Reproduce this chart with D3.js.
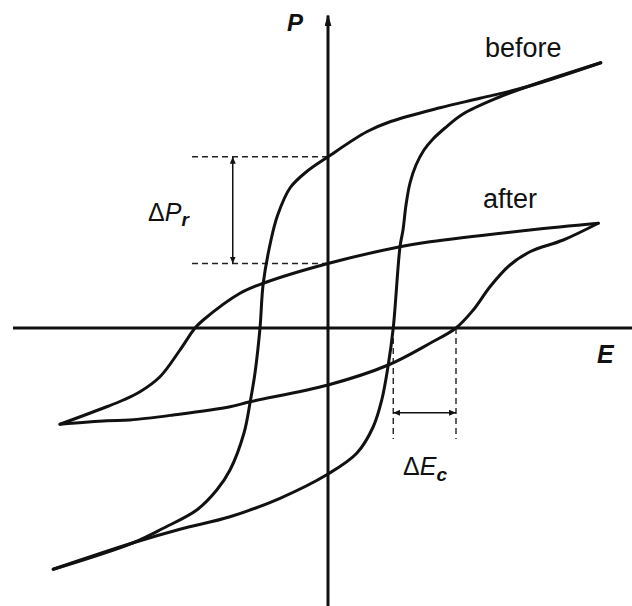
<!DOCTYPE html>
<html>
<head>
<meta charset="utf-8">
<script src="https://cdn.jsdelivr.net/npm/d3@7"></script>
<style>
  body { margin: 0; background: #fff; }
  svg text { font-family: "Liberation Sans", Arial, sans-serif; fill: #111; }
</style>
</head>
<body>
<div id="chart"></div>
<script>
// hysteresis loops, [E, P] in arbitrary units
var beforeUp = [
  [-10.99, -9.65], [-7.79, -8.59], [-5.92, -8.05], [-3.92, -7.55], [-1.92, -6.81],
  [0, -5.84], [1.15, -5.01], [1.81, -3.95], [2.15, -2.88], [2.41, -1.48],
  [2.61, 0], [2.88, 3.25], [3.0, 3.92], [3.12, 4.92], [3.28, 5.8], [3.52, 6.52],
  [3.84, 7.12], [4.2, 7.56], [4.68, 8.0], [5.4, 8.56], [6.76, 9.2], [7.96, 9.65],
  [10.91, 10.61]
];
var beforeDown = [
  [10.91, 10.61], [7.96, 9.65], [6.08, 9.19], [4.48, 8.81], [2.48, 8.25],
  [1.55, 7.85], [0, 6.85], [-0.85, 6.26], [-1.52, 5.6], [-2.02, 4.5],
  [-2.28, 3.52], [-2.59, 1.79], [-2.72, 0], [-2.92, -1.8], [-3.12, -3.0],
  [-3.36, -4.2], [-3.92, -5.68], [-4.45, -6.48], [-5.25, -7.28], [-6.59, -8.01],
  [-7.79, -8.59], [-10.99, -9.65]
];
var afterUp = [
  [-10.72, -3.85], [-8.85, -3.71], [-7.92, -3.68], [-6.19, -3.48], [-3.92, -3.15],
  [-3.12, -2.95], [0, -2.28], [2.41, -1.48], [4.08, -0.61], [5.12, 0],
  [5.81, 0.72], [6.48, 1.65], [7.28, 2.52], [8.08, 3.05], [9.41, 3.52], [10.81, 4.19]
];
var afterDown = [
  [10.81, 4.19], [8.08, 3.92], [4.08, 3.45], [2.88, 3.25], [0, 2.58],
  [-2.59, 1.79], [-3.52, 1.39], [-4.99, 0.32], [-5.32, 0], [-5.92, -0.88],
  [-6.72, -1.95], [-7.52, -2.55], [-8.19, -2.88], [-8.85, -3.15], [-10.72, -3.85]
];

var remanent = [6.85, 2.58];   // Pr before, after
var coercive = [2.61, 5.12];   // Ec before, after
var seriesNames = ["before", "after"];

var width = 632, height = 606;

var svg = d3.select("#chart").append("svg")
    .attr("width", width)
    .attr("height", height);

var x = d3.scaleLinear().domain([-13, 13]).range([3, 653]);
var y = d3.scaleLinear().domain([-13, 13]).range([653, 3]);

var defs = svg.append("defs");
defs.append("marker")
    .attr("id", "head")
    .attr("viewBox", "0 0 10 10")
    .attr("refX", 10).attr("refY", 5)
    .attr("markerWidth", 7).attr("markerHeight", 6)
    .attr("markerUnits", "userSpaceOnUse")
    .attr("orient", "auto-start-reverse")
    .attr("preserveAspectRatio", "none")
  .append("path")
    .attr("d", "M0,0L10,5L0,10Z")
    .attr("fill", "#111");
defs.append("marker")
    .attr("id", "axisHead")
    .attr("viewBox", "0 0 10 10")
    .attr("refX", 9).attr("refY", 5)
    .attr("markerWidth", 12).attr("markerHeight", 7)
    .attr("markerUnits", "userSpaceOnUse")
    .attr("orient", "auto")
    .attr("preserveAspectRatio", "none")
  .append("path")
    .attr("d", "M0,0L10,5L0,10Z")
    .attr("fill", "#111");

// axes
svg.append("line")
    .attr("x1", x(-12.6)).attr("x2", width)
    .attr("y1", y(0)).attr("y2", y(0))
    .attr("stroke", "#111").attr("stroke-width", 3);
svg.append("line")
    .attr("x1", x(0)).attr("x2", x(0))
    .attr("y1", height).attr("y2", y(12.5))
    .attr("stroke", "#111").attr("stroke-width", 3)
    .attr("marker-end", "url(#axisHead)");

svg.append("text")
    .attr("x", x(0) - 25).attr("y", y(11.9))
    .attr("text-anchor", "end")
    .style("font-size", "24px").style("font-weight", "bold").style("font-style", "italic")
    .text("P");
svg.append("text")
    .attr("x", x(10.76)).attr("y", y(-1.4))
    .style("font-size", "25px").style("font-weight", "bold").style("font-style", "italic")
    .text("E");

// dashed guides
var dash = svg.append("g")
    .attr("stroke", "#222").attr("stroke-width", 1.4)
    .attr("stroke-dasharray", "6,4");
remanent.forEach(function(p) {
  dash.append("line")
      .attr("x1", x(-5.44)).attr("x2", x(0))
      .attr("y1", y(p)).attr("y2", y(p));
});
coercive.forEach(function(e) {
  dash.append("line")
      .attr("x1", x(e)).attr("x2", x(e))
      .attr("y1", y(0)).attr("y2", y(-4.44));
});

// double arrows
svg.append("line")
    .attr("x1", x(-3.81)).attr("x2", x(-3.81))
    .attr("y1", y(remanent[0])).attr("y2", y(remanent[1]))
    .attr("stroke", "#111").attr("stroke-width", 1.5)
    .attr("marker-start", "url(#head)").attr("marker-end", "url(#head)");
svg.append("line")
    .attr("x1", x(coercive[0])).attr("x2", x(coercive[1]))
    .attr("y1", y(-3.39)).attr("y2", y(-3.39))
    .attr("stroke", "#111").attr("stroke-width", 1.5)
    .attr("marker-start", "url(#head)").attr("marker-end", "url(#head)");

var dp = svg.append("text")
    .attr("x", x(-7.2)).attr("y", y(4.3))
    .style("font-size", "25px");
dp.append("tspan").text("\u0394");
dp.append("tspan").style("font-style", "italic").text("P");
dp.append("tspan").attr("dy", 5).style("font-style", "italic").style("font-weight", "bold")
    .style("font-size", "19px").text("r");

var de = svg.append("text")
    .attr("x", x(3.0)).attr("y", y(-5.88))
    .style("font-size", "25px");
de.append("tspan").text("\u0394");
de.append("tspan").style("font-style", "italic").text("E");
de.append("tspan").attr("dy", 6).style("font-style", "italic").style("font-weight", "bold")
    .style("font-size", "19px").text("c");

// loops
var line = d3.line()
    .x(function(d) { return x(d[0]); })
    .y(function(d) { return y(d[1]); })
    .curve(d3.curveCatmullRom.alpha(0.5));

[beforeUp, beforeDown, afterUp, afterDown].forEach(function(branch) {
  svg.append("path")
      .attr("d", line(branch))
      .attr("fill", "none")
      .attr("stroke", "#111")
      .attr("stroke-width", 3)
      .attr("stroke-linejoin", "round")
      .attr("stroke-linecap", "round");
});

svg.selectAll(".name")
    .data(seriesNames)
    .enter().append("text")
    .attr("class", "name")
    .attr("x", function(d, i) { return x(i == 0 ? 6.28 : 6.2); })
    .attr("y", function(d, i) { return y(i == 0 ? 10.84 : 4.8); })
    .style("font-size", "27px")
    .text(function(d) { return d; });
</script>
</body>
</html>
